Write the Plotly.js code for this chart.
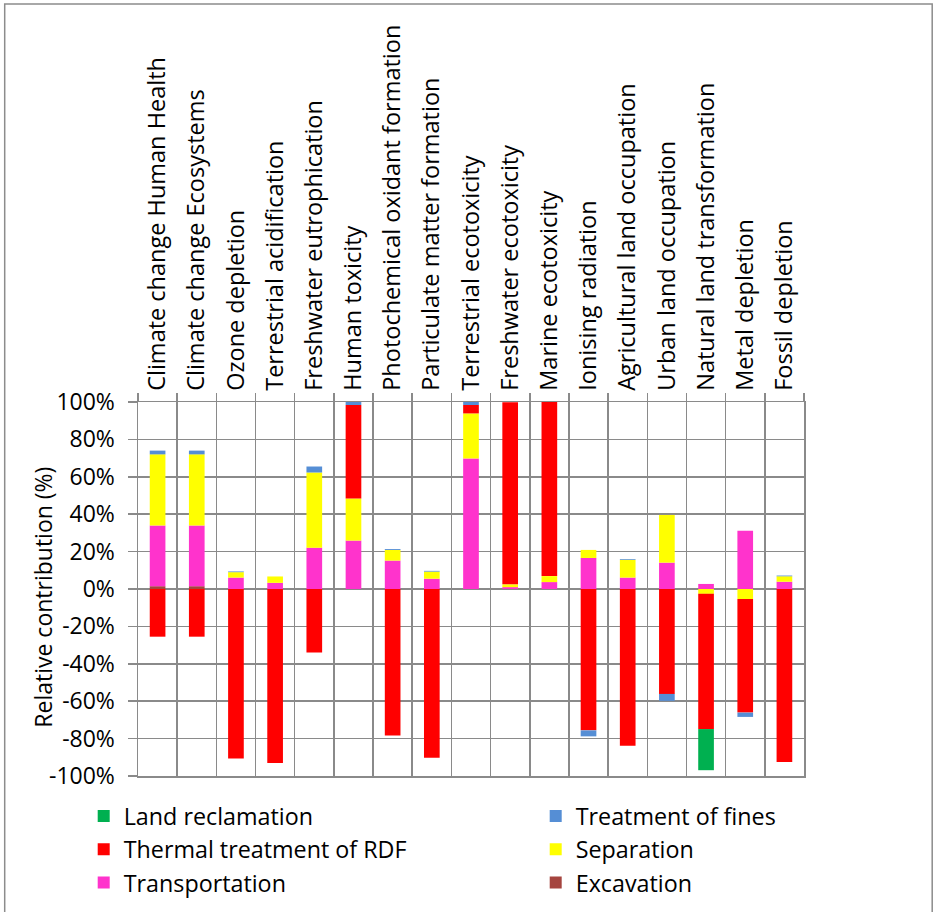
<!DOCTYPE html>
<html>
<head>
<meta charset="utf-8">
<script src="https://cdn.plot.ly/plotly-3.0.1.min.js"></script>
<style>html,body{margin:0;padding:0;background:#fff;}#chart{width:934px;height:912px;}</style>
</head>
<body>
<div id="chart"></div>
<script>
const categories = [
  "Climate change Human Health", "Climate change Ecosystems", "Ozone depletion",
  "Terrestrial acidification", "Freshwater eutrophication", "Human toxicity",
  "Photochemical oxidant formation", "Particulate matter formation",
  "Terrestrial ecotoxicity", "Freshwater ecotoxicity", "Marine ecotoxicity",
  "Ionising radiation", "Agricultural land occupation", "Urban land occupation",
  "Natural land transformation", "Metal depletion", "Fossil depletion"
];
const excavation     = [1.5, 1.5, 0, 0, 0, 0, 0, 0, 0, 0, 0, 0, 0, 0, 0, 0, 0];
const transportation = [32.5, 32.5, 6.1, 3.3, 22.1, 25.9, 15.2, 5.5, 69.8, 1.0, 3.7, 16.6, 6.1, 14.1, 2.7, 31.1, 3.9];
const separation     = [38.0, 38.0, 2.9, 3.4, 40.2, 22.5, 5.7, 3.8, 24.1, 1.5, 3.2, 4.3, 9.5, 25.5, -2.6, -5.4, 2.9];
const thermalRDF     = [-25.5, -25.5, -90.7, -93.1, -33.9, 50.0, -78.4, -90.2, 4.5, 97.3, 93.1, -75.6, -83.8, -56.1, -72.3, -60.7, -92.5];
const fines          = [2.0, 2.0, 0.4, 0, 3.2, 1.6, 0.5, 0.4, 1.6, 0, 0, -3.2, 0.4, -3.7, 0, -2.3, 0.4];
const landReclamation= [0, 0, 0, 0, 0, 0, 0, 0, 0, 0, 0, 0, 0, 0, -22.0, 0, 0];
const yTickVals = [-100, -80, -60, -40, -20, 0, 20, 40, 60, 80, 100];
const yTickText = ["-100%", "-80%", "-60%", "-40%", "-20%", "0%", "20%", "40%", "60%", "80%", "100%"];

const seriesNames  = ["Excavation", "Transportation", "Separation", "Thermal treatment of RDF", "Treatment of fines", "Land reclamation"];
const seriesValues = [excavation, transportation, separation, thermalRDF, fines, landReclamation];
const seriesColors = ["#A5453F", "#FF33CC", "#FFFF00", "#FF0000", "#558ED5", "#00B050"];
const seriesLegend = ["legend2", "legend", "legend2", "legend", "legend2", "legend"];

const FONT = "Open Sans, Noto Sans, sans-serif";
const GRID = "#8a8a8a";

const traces = seriesNames.map((n, i) => ({
  type: "bar",
  name: n,
  x: categories,
  y: seriesValues[i],
  legend: seriesLegend[i],
  marker: {color: seriesColors[i], line: {width: 0}},
  hoverinfo: "x+y+name"
}));

const L = 138.3, R = 804.3, T = 402.3, B = 775.7;
const W = R - L, H = B - T;
const px = X => (X - L) / W;
const py = Y => (B - Y) / H;

const legendBase = {
  orientation: "v",
  traceorder: "reversed",
  xanchor: "left",
  y: py(794), yanchor: "top",
  font: {family: FONT, size: 23.3, color: "#000"},
  bgcolor: "rgba(0,0,0,0)",
  itemclick: false
};

const layout = {
  width: 934, height: 912,
  margin: {l: L, r: 934 - R, t: T, b: 912 - B, autoexpand: false},
  paper_bgcolor: "#ffffff",
  plot_bgcolor: "#ffffff",
  barmode: "relative",
  bargap: 0.6,
  font: {family: FONT, size: 23, color: "#000000"},
  showlegend: true,
  legend: Object.assign({}, legendBase, {x: px(84)}),
  legend2: Object.assign({}, legendBase, {x: px(536)}),
  xaxis: {
    type: "category",
    categoryorder: "array",
    categoryarray: categories,
    side: "top",
    tickangle: -90,
    tickson: "boundaries",
    ticks: "outside",
    ticklen: 8,
    tickwidth: 1.5,
    tickcolor: GRID,
    showgrid: true,
    gridcolor: GRID,
    gridwidth: 1.5,
    showline: true,
    linecolor: GRID,
    linewidth: 1.5,
    mirror: true,
    automargin: false,
    ticklabelstandoff: 5,
    tickfont: {family: FONT, size: 23.5, color: "#000"}
  },
  yaxis: {
    range: [-100, 100],
    tickvals: yTickVals,
    ticktext: yTickText,
    ticks: "outside",
    ticklen: 9,
    tickwidth: 1.5,
    tickcolor: GRID,
    showgrid: true,
    gridcolor: GRID,
    gridwidth: 1.5,
    zeroline: true,
    zerolinecolor: GRID,
    zerolinewidth: 1.5,
    showline: true,
    linecolor: GRID,
    linewidth: 1.5,
    mirror: true,
    automargin: false,
    ticklabelstandoff: 8,
    tickfont: {family: FONT, size: 23, color: "#000"}
  },
  annotations: [{
    text: "Relative contribution (%)",
    xref: "paper", yref: "paper",
    x: px(43), y: py(597),
    xanchor: "center", yanchor: "middle",
    textangle: -90,
    showarrow: false,
    font: {family: FONT, size: 23, color: "#000"}
  }],
  shapes: [{
    type: "rect", xref: "paper", yref: "paper",
    x0: px(5), x1: px(932.5), y0: py(5), y1: py(930),
    line: {color: "#8c8c8c", width: 1.5},
    fillcolor: "rgba(0,0,0,0)",
    layer: "above"
  }]
};

Plotly.newPlot("chart", traces, layout, {displayModeBar: false, staticPlot: true});
</script>
</body>
</html>
